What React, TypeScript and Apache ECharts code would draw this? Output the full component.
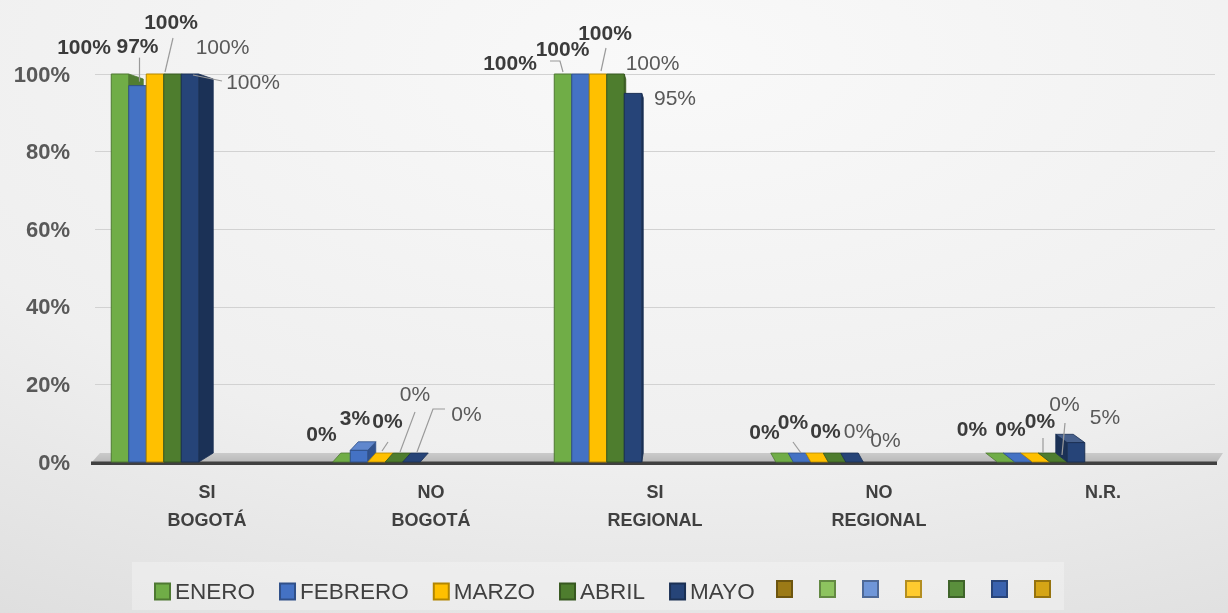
import React, { useEffect, useRef } from 'react';
import * as echarts from 'echarts';

// ---------- data ----------
const CATEGORIES = ['SI\nBOGOTÁ', 'NO\nBOGOTÁ', 'SI\nREGIONAL', 'NO\nREGIONAL', 'N.R.'];
const MONTHS = ['ENERO', 'FEBRERO', 'MARZO', 'ABRIL', 'MAYO'];
const ENERO = [100, 0, 100, 0, 0];
const FEBRERO = [97, 3, 100, 0, 0];
const MARZO = [100, 0, 100, 0, 0];
const ABRIL = [100, 0, 100, 0, 0];
const MAYO = [100, 0, 95, 0, 5];
const SERIES_VALUES = [ENERO, FEBRERO, MARZO, ABRIL, MAYO];
const Y_MIN = 0;
const Y_MAX = 100;
const Y_STEP = 20;
const EXTRA_NAMES = ['s6', 's7', 's8', 's9', 's10', 's11', 's12'];

// ---------- style ----------
const FONT = '"Liberation Sans", Arial, sans-serif';
const COLORS = ['#70AD47', '#4472C4', '#FFC000', '#4E7D2E', '#264478'];
const EXTRA_COLORS = ['#9C7A16', '#8DC35F', '#6F96D8', '#FFCB2F', '#5A8F3C', '#3A62AE', '#D5A516'];
const LABEL_BOLD = [true, true, true, false, false];

// label offsets (px) relative to bar front-top centre: [series][category]
const LABEL_OFFSETS: number[][][] = [
  [[-36, -28], [-20, -29], [-53, -12], [-20, -31], [-34, -34]],
  [[0, -40], [-4, -33], [-18, -26], [-9, -41], [-13, -34]],
  [[16, -53], [11, -42], [7, -42], [6, -32], [-1, -42]],
  [[50, -28], [21, -69], [37, -12], [22, -32], [6, -59]],
  [[63, 7], [55, -49], [42, 4], [31, -23], [29, -26]],
];
const LEADERS: Record<string, number[][]> = {
  '1-0': [[2, -28], [2, -4]],
  '2-0': [[18, -36], [10, -2]],
  '4-0': [[3, 1], [32, 7]],
  '2-1': [[11.5, -20], [5.5, -11]],
  '3-1': [[21, -50], [6, -10]],
  '4-1': [[33.5, -53], [21.5, -53], [5.5, -10]],
  '0-2': [[-13, -13], [-3, -13], [0, -2]],
  '2-2': [[8, -26], [3, -3]],
  '1-3': [[-9, -20], [-1, -9]],
  '2-4': [[2, -24], [2, -9]],
  '3-4': [[6.5, -39], [3.5, -7]],
};

function shade(hex: string, amt: number) {
  const n = parseInt(hex.slice(1), 16);
  const ch = [(n >> 16) & 255, (n >> 8) & 255, n & 255];
  const f = (c: number) => (amt < 0 ? Math.round(c * (1 + amt)) : Math.round(c + (255 - c) * amt));
  return '#' + ch.map((c) => f(c).toString(16).padStart(2, '0')).join('');
}

const makeRenderBar = (slot: number) => (params: any, api: any) => {
  const cat = api.value(0) as number;
  const v = api.value(1) as number;
  const top = api.coord([cat, v]);
  const base = api.coord([cat, 0]);
  const catW = api.size([1, 0])[0];
  const k = catW / 224;
  const barW = 17.5 * k;
  const shift = (52 + 2.5 * cat) * k;
  const x0 = base[0] - shift - 2.5 * barW + slot * barW;
  const x1 = x0 + barW;
  const yv = top[1];
  const y0 = base[1];
  const dx = 14.5 - 6.5 * cat;
  const dyF = -9;
  const dyT = -9 + 14 * (v / 100);
  const color = COLORS[slot];
  const border = shade(color, -0.3);
  const children: any[] = [];
  if (v > 0 && Math.abs(dx) > 0.5) {
    const xe = dx > 0 ? x1 : x0;
    children.push({
      type: 'polygon',
      shape: { points: [[xe, yv], [xe + dx, yv + dyT], [xe + dx, y0 + dyF], [xe, y0]] },
      style: { fill: shade(color, -0.28), stroke: border, lineWidth: 0.8 },
    });
  }
  if (dyT < 0) {
    children.push({
      type: 'polygon',
      shape: { points: [[x0, yv], [x1, yv], [x1 + dx, yv + dyT], [x0 + dx, yv + dyT]] },
      style: { fill: v > 0 ? shade(color, 0.15) : color, stroke: border, lineWidth: 0.8 },
    });
  }
  if (y0 - yv > 0.5) {
    children.push({
      type: 'rect',
      shape: { x: x0, y: yv, width: barW, height: y0 - yv },
      style: { fill: color, stroke: border, lineWidth: 1 },
    });
  }
  const bx = x0 + barW / 2;
  const off = LABEL_OFFSETS[slot][cat];
  const leader = LEADERS[slot + '-' + cat];
  if (leader) {
    children.push({
      type: 'polyline',
      z2: 90,
      shape: { points: leader.map((p) => [bx + p[0], yv + p[1]]) },
      style: { stroke: '#9a9a9a', lineWidth: 1.2, fill: null },
    });
  }
  children.push({
    type: 'text',
    z2: 100,
    x: bx + off[0],
    y: yv + off[1],
    style: {
      text: v + '%',
      fill: LABEL_BOLD[slot] ? '#3b3b3b' : '#595959',
      fontSize: 21,
      fontWeight: LABEL_BOLD[slot] ? 'bold' : 'normal',
      fontFamily: FONT,
      align: 'center',
      verticalAlign: 'middle',
    },
  });
  return { type: 'group', children };
};

const renderFloor = (params: any) => {
  const cs = params.coordSys;
  const x = cs.x;
  const w = cs.width;
  const y0 = cs.y + cs.height;
  return {
    type: 'group',
    children: [
      {
        type: 'polygon',
        shape: { points: [[x - 3, y0], [x + w + 2, y0], [x + w + 8, y0 - 9], [x + 5, y0 - 9]] },
        style: {
          fill: { type: 'linear', x: 0, y: 0, x2: 0, y2: 1, colorStops: [{ offset: 0, color: '#cbcbcb' }, { offset: 1, color: '#b9b9b9' }] },
        },
      },
      { type: 'rect', shape: { x: x - 4, y: y0 - 0.5, width: w + 6, height: 3.5 }, style: { fill: '#404040' } },
    ],
  };
};

export default function App() {
  const ref = useRef<HTMLDivElement>(null);
  useEffect(() => {
    if (!ref.current) return;
    const chart = echarts.init(ref.current, null, { renderer: 'svg' });
    const barSeries = MONTHS.map((name, i) => ({
      type: 'custom',
      name,
      data: SERIES_VALUES[i].map((v, c) => [c, v]),
      encode: { x: 0, y: 1 },
      renderItem: makeRenderBar(i),
      clip: false,
      z: 2,
      itemStyle: { color: COLORS[i], borderColor: shade(COLORS[i], -0.3), borderWidth: 1.5 },
    }));
    const extraSeries = EXTRA_NAMES.map((name, i) => ({
      type: 'custom',
      name,
      data: [],
      renderItem: () => null,
      itemStyle: { color: EXTRA_COLORS[i], borderColor: shade(EXTRA_COLORS[i], -0.3), borderWidth: 1.5 },
    }));
    chart.setOption({
      animation: false,
      backgroundColor: {
        type: 'radial', x: 0.55, y: 0.1, r: 1.3,
        colorStops: [
          { offset: 0, color: '#f9f9f9' },
          { offset: 0.5, color: '#efefef' },
          { offset: 1, color: '#d5d5d5' },
        ],
      },
      textStyle: { fontFamily: FONT },
      graphic: [
        { type: 'rect', left: 132, top: 562, shape: { width: 932, height: 48 }, style: { fill: 'rgba(255,255,255,0.28)' }, z: 0 },
      ],
      grid: { left: 95, right: 13, top: 74, bottom: 151 },
      xAxis: {
        type: 'category',
        data: CATEGORIES,
        axisLine: { show: false },
        axisTick: { show: false },
        axisLabel: { fontSize: 18, fontWeight: 'bold', color: '#404040', lineHeight: 28, margin: 16, fontFamily: FONT },
      },
      yAxis: {
        type: 'value',
        min: Y_MIN,
        max: Y_MAX,
        interval: Y_STEP,
        axisLine: { show: false },
        axisTick: { show: false },
        splitLine: { lineStyle: { color: '#d2d2d2', width: 1 } },
        axisLabel: { formatter: '{value}%', fontSize: 22, fontWeight: 'bold', color: '#595959', margin: 25, fontFamily: FONT },
      },
      legend: [
        {
          data: MONTHS, left: 149, top: 575, itemWidth: 15, itemHeight: 16, itemGap: 24, icon: 'rect',
          textStyle: { fontSize: 22.5, color: '#404040', fontFamily: FONT },
        },
        {
          data: EXTRA_NAMES, left: 771, top: 575, itemWidth: 15, itemHeight: 16, itemGap: 26, icon: 'rect',
          formatter: () => '',
        },
      ],
      series: [
        { type: 'custom', data: [[0, 0]], encode: { x: 0, y: 1 }, renderItem: renderFloor, silent: true, z: 1 },
        ...barSeries,
        ...extraSeries,
      ],
    });
    return () => chart.dispose();
  }, []);
  return <div ref={ref} style={{ position: 'fixed', left: 0, top: 0, width: 1228, height: 613 }} />;
}
